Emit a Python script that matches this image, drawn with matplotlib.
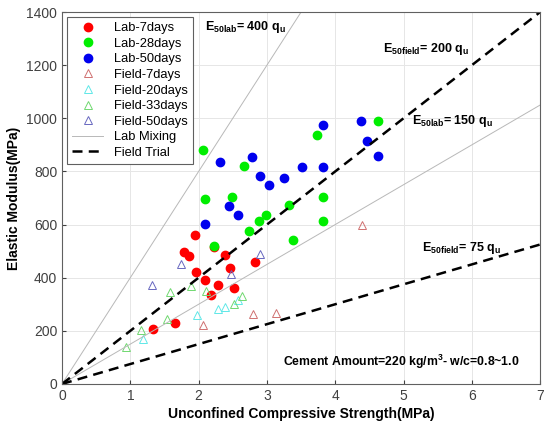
import numpy as np
import matplotlib.pyplot as plt

plt.rcParams["font.family"] = ["Liberation Sans", "DejaVu Sans"]
plt.rcParams["mathtext.fontset"] = "custom"
plt.rcParams["mathtext.rm"] = "Liberation Sans"
plt.rcParams["mathtext.bf"] = "Liberation Sans:bold"

# lab specimens (qu in MPa, E50 in MPa)
lab7_qu = [1.33, 1.66, 1.78, 1.86, 1.94, 1.96, 2.10, 2.18, 2.22, 2.28, 2.39, 2.46, 2.52, 2.82]
lab7_e = [208, 228, 498, 483, 560, 423, 391, 334, 515, 373, 487, 437, 360, 459]

lab28_qu = [2.06, 2.09, 2.23, 2.49, 2.66, 2.74, 2.88, 2.98, 3.33, 3.38, 3.73, 3.82, 3.82, 4.63]
lab28_e = [881, 697, 520, 705, 820, 577, 613, 637, 674, 543, 938, 702, 613, 988]

lab50_qu = [2.10, 2.32, 2.44, 2.57, 2.78, 2.90, 3.03, 3.25, 3.51, 3.82, 3.82, 4.38, 4.47, 4.63]
lab50_e = [602, 834, 668, 636, 853, 783, 749, 777, 818, 815, 976, 988, 913, 858]

# field cores
f7_qu = [2.07, 2.79, 3.13, 4.39]
f7_e = [222, 262, 268, 598]

f20_qu = [1.19, 1.97, 2.29, 2.38, 2.57]
f20_e = [168, 260, 281, 290, 315]

f33_qu = [0.94, 1.15, 1.54, 1.58, 1.89, 2.11, 2.52, 2.63]
f33_e = [138, 203, 246, 345, 370, 349, 302, 332]

f50_qu = [1.32, 1.74, 2.48, 2.90]
f50_e = [371, 450, 413, 488]

lab_ratios = [400, 150]
field_ratios = [200, 75]

fig = plt.figure(figsize=(5.44, 4.29), dpi=100)
ax = fig.add_axes([0.114, 0.105, 0.879, 0.867])

ms = 6
ax.plot(lab7_qu, lab7_e, "o", color="#ff0000", ms=ms, label="Lab-7days")
ax.plot(lab28_qu, lab28_e, "o", color="#00ee00", ms=ms, label="Lab-28days")
ax.plot(lab50_qu, lab50_e, "o", color="#0000ee", ms=ms, label="Lab-50days")

tri = dict(ls="none", marker="^", mfc="none", ms=6, mew=0.7)
ax.plot(f7_qu, f7_e, mec="#d07070", label="Field-7days", **tri)
ax.plot(f20_qu, f20_e, mec="#60e8e8", label="Field-20days", **tri)
ax.plot(f33_qu, f33_e, mec="#70d870", label="Field-33days", **tri)
ax.plot(f50_qu, f50_e, mec="#6868c0", label="Field-50days", **tri)

x = np.array([0, 7])
for i, r in enumerate(lab_ratios):
    ax.plot(x, r * x, color="#b8b8b8", lw=0.7,
            label="Lab Mixing" if i == 0 else None)
for i, r in enumerate(field_ratios):
    ax.plot(x, r * x, color="black", lw=1.8, ls=(0, (4, 2.5)),
            label="Field Trial" if i == 0 else None)

ax.set_xlim(0, 7)
ax.set_ylim(0, 1400)
ax.set_xticks(range(0, 8))
ax.set_yticks(range(0, 1401, 200))
ax.grid(True, color="#e6e6e6", lw=0.7)
ax.set_axisbelow(True)
ax.tick_params(direction="in", labelsize=10, colors="#404040", length=3)
for s in ax.spines.values():
    s.set_color("#606060")

ax.set_xlabel("Unconfined Compressive Strength(MPa)", fontsize=10,
              fontweight="bold", labelpad=3)
ax.set_ylabel("Elastic Modulus(MPa)", fontsize=10, fontweight="bold",
              labelpad=4)

tkw = dict(fontsize=9, fontweight="bold", va="center")
ax.text(2.09, 1342, r"$\mathbf{E_{50lab}}$= 400 q$_\mathbf{u}$", **tkw)
ax.text(4.70, 1261, r"$\mathbf{E_{50field}}$= 200 q$_\mathbf{u}$", **tkw)
ax.text(5.12, 991, r"$\mathbf{E_{50lab}}$= 150 q$_\mathbf{u}$", **tkw)
ax.text(5.27, 512, r"$\mathbf{E_{50field}}$= 75 q$_\mathbf{u}$", **tkw)
ax.text(3.24, 83, r"Cement Amount=220 kg/m$^\mathbf{3}$- w/c=0.8~1.0",
        fontsize=8.8, fontweight="bold", va="center")

leg = ax.legend(loc="upper left", fontsize=9.3, handlelength=2.4,
                labelspacing=0.27, borderpad=0.4, handletextpad=0.8,
                fancybox=False, edgecolor="#606060", framealpha=1,
                borderaxespad=0.4)
leg.get_frame().set_linewidth(0.8)

fig.savefig("out.png", dpi=100)
